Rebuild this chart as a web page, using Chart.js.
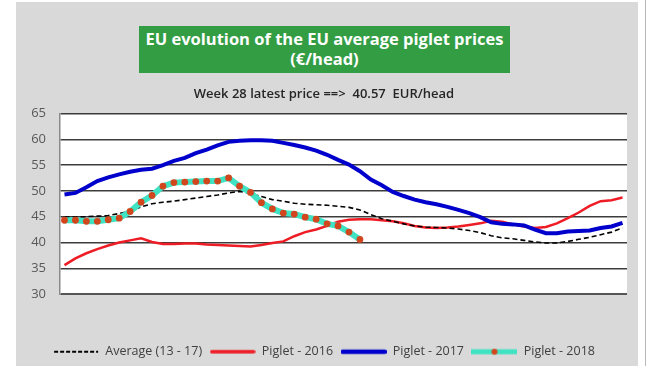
<!DOCTYPE html>
<html>
<head>
<meta charset="utf-8">
<script src="https://cdn.jsdelivr.net/npm/chart.js@4/dist/chart.umd.min.js"></script>
<style>
    html, body { margin: 0; padding: 0; width: 650px; height: 366px; overflow: hidden; background: #fff; }
    .panel { position: absolute; left: 16px; top: 2px; width: 622px; height: 366px; background: #d9d9d9; }
    .rule { position: absolute; left: 645px; top: 0; width: 1px; height: 366px; background: #b8b8b8; }
    .title-box {
        position: absolute; left: 139px; top: 26px; width: 371px; height: 47px;
        background: #339d44; color: #fff; text-align: center;
        font: bold 16.5px "Open Sans", sans-serif; line-height: 20px; padding-top: 3px; box-sizing: border-box;
        white-space: nowrap;
    }
    .subtitle {
        position: absolute; left: 0; width: 648px; top: 84px; text-align: center;
        font: 600 13px "Open Sans", sans-serif; color: #262626; white-space: pre;
    }
    #chart { position: absolute; left: 0; top: 0; }
</style>
</head>
<body>
<div class="panel">
    <canvas id="chart" width="622" height="366"></canvas>
</div>
<div class="rule"></div>
<div class="title-box">EU evolution of the EU average piglet prices<br>(€/head)</div>
<div class="subtitle">Week 28 latest price ==>  40.57  EUR/head</div>

<script>
const weeks = Array.from({ length: 52 }, (_, i) => i + 1);
const yTicks = [30, 35, 40, 45, 50, 55, 60, 65];

const average = [
    44.9, 44.9, 45.0, 45.1, 45.2, 45.6, 46.1, 46.9, 47.5, 47.8,
    48.0, 48.3, 48.6, 48.9, 49.2, 49.6, 49.9, 49.5, 48.9, 48.3,
    48.0, 47.6, 47.4, 47.3, 47.2, 47.0, 46.8, 46.3, 45.4, 44.6,
    44.1, 43.6, 43.2, 43.0, 42.9, 42.8, 42.6, 42.3, 41.9, 41.3,
    40.9, 40.7, 40.4, 40.1, 39.9, 39.9, 40.2, 40.6, 41.0, 41.5,
    42.0, 42.8
];
const piglet2016 = [
    35.6, 36.9, 37.9, 38.7, 39.4, 40.0, 40.4, 40.8, 40.1, 39.7,
    39.7, 39.8, 39.8, 39.6, 39.5, 39.4, 39.3, 39.2, 39.5, 39.9,
    40.2, 41.2, 42.0, 42.5, 43.2, 44.0, 44.4, 44.5, 44.5, 44.3,
    44.1, 43.7, 43.2, 42.9, 42.8, 42.9, 43.1, 43.4, 43.7, 44.2,
    44.0, 43.5, 43.1, 42.8, 43.0, 43.7, 44.7, 45.8, 47.1, 48.0,
    48.2, 48.7
];
const piglet2017 = [
    49.3, 49.6, 50.7, 51.9, 52.6, 53.2, 53.7, 54.1, 54.3, 55.0,
    55.8, 56.4, 57.3, 58.0, 58.8, 59.5, 59.7, 59.8, 59.8, 59.7,
    59.3, 58.9, 58.4, 57.8, 57.0, 56.0, 55.1, 53.8, 52.2, 51.1,
    49.8, 49.0, 48.3, 47.8, 47.4, 46.9, 46.3, 45.7, 44.9, 43.9,
    43.6, 43.5, 43.3, 42.5, 41.8, 41.8, 42.1, 42.2, 42.3, 42.8,
    43.1, 43.8
];
const piglet2018 = [
    44.3, 44.3, 44.1, 44.1, 44.4, 44.7, 46.0, 47.8, 49.1, 50.9,
    51.6, 51.7, 51.8, 51.9, 51.9, 52.5, 50.9, 49.7, 47.7, 46.5,
    45.7, 45.5, 44.9, 44.5, 43.6, 43.2, 42.0, 40.57
];

function toPoints(values) {
    return values.map((v, i) => ({ x: weeks[i], y: v }));
}

// little canvases used as legend markers
function legendMarker(draw) {
    const c = document.createElement('canvas');
    c.width = 46;
    c.height = 10;
    const g = c.getContext('2d');
    draw(g);
    return c;
}

const markers = [
    legendMarker(g => {
        g.strokeStyle = '#000';
        g.lineWidth = 2.2;
        g.setLineDash([4, 2]);
        g.beginPath(); g.moveTo(1, 5); g.lineTo(45, 5); g.stroke();
    }),
    legendMarker(g => {
        g.strokeStyle = '#ee1c25';
        g.lineWidth = 3.5;
        g.lineCap = 'round';
        g.beginPath(); g.moveTo(2, 5); g.lineTo(44, 5); g.stroke();
    }),
    legendMarker(g => {
        g.strokeStyle = '#0000cc';
        g.lineWidth = 4.5;
        g.lineCap = 'round';
        g.beginPath(); g.moveTo(2, 5); g.lineTo(44, 5); g.stroke();
    }),
    legendMarker(g => {
        g.strokeStyle = '#3fe3c3';
        g.lineWidth = 5;
        g.beginPath(); g.moveTo(0, 5); g.lineTo(46, 5); g.stroke();
        g.fillStyle = '#d2461e';
        g.beginPath(); g.arc(23, 5, 3, 0, Math.PI * 2); g.fill();
    })
];

const plotBackground = {
    id: 'plotBackground',
    beforeDraw(chart) {
        const { ctx, chartArea: a } = chart;
        ctx.save();
        ctx.fillStyle = '#ffffff';
        ctx.fillRect(a.left, a.top, a.right - a.left, a.bottom - a.top);
        ctx.restore();
    }
};

new Chart(document.getElementById('chart'), {
    type: 'line',
    data: {
        datasets: [
            {
                label: 'Average (13 - 17)',
                data: toPoints(average),
                borderColor: '#000000',
                borderWidth: 1.6,
                borderDash: [5, 3],
                pointRadius: 0,
                order: 1
            },
            {
                label: 'Piglet - 2016',
                data: toPoints(piglet2016),
                borderColor: '#ee1c25',
                borderWidth: 2.5,
                pointRadius: 0,
                order: 3
            },
            {
                label: 'Piglet - 2017',
                data: toPoints(piglet2017),
                borderColor: '#0000cc',
                borderWidth: 4,
                pointRadius: 0,
                order: 2
            },
            {
                label: 'Piglet - 2018',
                data: toPoints(piglet2018),
                borderColor: '#3fe3c3',
                borderWidth: 6,
                pointRadius: 3.4,
                pointBorderWidth: 0,
                pointBackgroundColor: '#d2461e',
                order: 0
            }
        ]
    },
    options: {
        responsive: false,
        animation: false,
        layout: { padding: { top: 111.5, right: 11, left: 5, bottom: 0 } },
        scales: {
            x: {
                type: 'linear',
                min: 0.59,
                max: 52.41,
                grid: { display: false },
                border: { display: false },
                ticks: { display: false },
                afterFit: s => { s.height = 44; }
            },
            y: {
                min: 30,
                max: 65,
                afterBuildTicks: s => { s.ticks = yTicks.map(v => ({ value: v })); },
                afterFit: s => { s.width = 39; },
                grid: {
                    color: ctx => ctx.tick && ctx.tick.value === 30 ? '#555555' : '#3c3c3c',
                    lineWidth: ctx => ctx.tick && ctx.tick.value === 30 ? 2 : 1.4,
                    drawTicks: false
                },
                border: { display: true, color: '#8a8a8a', width: 1.5 },
                ticks: {
                    padding: 14,
                    color: '#595959',
                    font: { family: 'Open Sans', size: 13 }
                }
            }
        },
        plugins: {
            title: { display: false },
            tooltip: { enabled: false },
            legend: {
                position: 'bottom',
                labels: {
                    usePointStyle: true,
                    pointStyleWidth: 46,
                    padding: 7.5,
                    color: '#404040',
                    font: { family: 'Open Sans', size: 12.5 },
                    generateLabels: chart => chart.data.datasets.map((ds, i) => ({
                        text: ds.label,
                        pointStyle: markers[i],
                        fillStyle: 'transparent',
                        strokeStyle: 'transparent',
                        lineWidth: 0,
                        fontColor: '#404040',
                        datasetIndex: i
                    }))
                }
            }
        }
    },
    plugins: [plotBackground]
});
</script>
</body>
</html>
